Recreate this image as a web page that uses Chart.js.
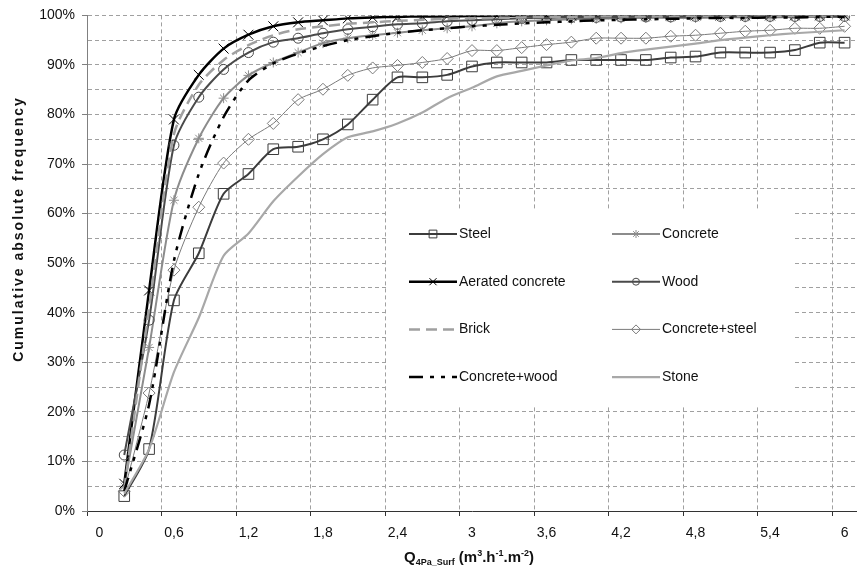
<!DOCTYPE html>
<html>
<head>
<meta charset="utf-8">
<script src="https://cdn.jsdelivr.net/npm/chart.js@4/dist/chart.umd.min.js"></script>
<style>
  html, body { margin: 0; padding: 0; background: #fff; }
</style>
</head>
<body>
<canvas id="graficoFrecuencia" width="857" height="577"></canvas>
<script>
// categorias del eje X (Q4Pa_Surf), paso 0,2
const categorias = ['0', '0,2', '0,4', '0,6', '0,8', '1', '1,2', '1,4', '1,6', '1,8',
  '2', '2,2', '2,4', '2,6', '2,8', '3', '3,2', '3,4', '3,6', '3,8',
  '4', '4,2', '4,4', '4,6', '4,8', '5', '5,2', '5,4', '5,6', '5,8', '6'];

const nombres = ['Steel', 'Concrete', 'Aerated concrete', 'Wood', 'Brick',
  'Concrete+steel', 'Concrete+wood', 'Stone'];

// frecuencia acumulada (%)
const steel = [null, 3, 12.5, 42.5, 52, 64, 68, 73, 73.5, 75, 78,
  83, 87.5, 87.5, 88, 89.7, 90.5, 90.5, 90.5, 91, 91,
  91, 91, 91.5, 91.7, 92.5, 92.5, 92.5, 93, 94.5, 94.5];
const concrete = [null, 5, 33, 62.7, 75.2, 83.3, 87.9, 90.5, 92.5, 94.4, 95.4,
  96, 96.5, 97, 97.4, 97.8, 98.4, 98.8, 99, 99.2, 99.3,
  99.4, 99.5, 99.5, 99.5, 99.6, 99.6, 99.6, 99.7, 99.7, 99.7];
const aerated = [null, 5.5, 44.5, 79, 88, 93.3, 96.1, 97.8, 98.6, 99, 99.4,
  99.6, 99.7, 99.8, 99.8, 99.9, 99.9, 100, 100, 100, 100,
  100, 100, 100, 100, 100, 100, 100, 100, 100, 100];
const wood = [null, 11.3, 38.5, 73.8, 83.5, 89.1, 92.5, 94.6, 95.4, 96.4, 97.2,
  97.7, 98.2, 98.4, 98.8, 99, 99.2, 99.4, 99.5, 99.6, 99.6,
  99.7, 99.7, 99.7, 99.8, 99.8, 99.8, 99.8, 99.8, 99.8, 99.8];
const brick = [null, 4.5, 41, 76, 86, 91, 94, 96, 97.2, 97.8, 98.3,
  98.6, 98.9, 99.1, 99.3, 99.4, 99.5, 99.6, 99.7, 99.7, 99.8,
  99.8, 99.8, 99.8, 99.9, 99.9, 99.9, 99.9, 99.9, 99.9, 99.9];
const concreteSteel = [null, 4, 23.8, 48.6, 61.3, 70.2, 75, 78.2, 83, 85.1, 87.9,
  89.4, 89.9, 90.5, 91.3, 92.9, 92.9, 93.5, 94.1, 94.6, 95.4,
  95.4, 95.4, 95.8, 96, 96.4, 96.8, 97, 97.4, 97.4, 97.8];
const concreteWood = [null, 4, 21.5, 50.5, 68, 79.5, 86.9, 90.3, 92.3, 93.8, 95,
  95.8, 96.5, 97, 97.4, 97.8, 98.1, 98.4, 98.6, 98.8, 99,
  99.1, 99.2, 99.3, 99.4, 99.5, 99.5, 99.6, 99.6, 99.7, 99.7];
const stone = [null, 3.5, 12.5, 28, 39, 51.5, 56, 62.5, 67.5, 72, 75.4,
  76.6, 78.2, 80.4, 83.3, 85.4, 87.7, 88.8, 89.9, 90.9, 91.4,
  92.4, 93.1, 93.7, 94.3, 95, 95.5, 96, 96.4, 96.7, 97];

const series = [steel, concrete, aerated, wood, brick, concreteSteel, concreteWood, stone];

// estilo de cada serie (mismo orden que nombres)
const estilos = [
  { color: '#3c3c3c', ancho: 2, punto: 'rect', radio: 7.5, radioLey: 5.5 },
  { color: '#8c8c8c', ancho: 2, punto: 'star', radio: 5, radioLey: 4 },
  { color: '#000000', ancho: 2.5, punto: 'crossRot', radio: 7, radioLey: 5 },
  { color: '#4a4a4a', ancho: 2, punto: 'circle', radio: 5, radioLey: 3.5 },
  { color: '#a0a0a0', ancho: 2.5, dash: [11, 6] },
  { color: '#7a7a7a', ancho: 1, punto: 'rectRot', radio: 6, radioLey: 4.5 },
  { color: '#000000', ancho: 2.5, dash: [14, 7, 4, 7, 4, 7] },
  { color: '#a8a8a8', ancho: 2.2 },
];

const FUENTE = "'Liberation Sans', Arial, sans-serif";
Chart.defaults.font.family = FUENTE;
Chart.defaults.font.size = 14;
Chart.defaults.color = '#111';

const GRIS_REJILLA = '#a0a0a0';

const datasets = series.map((valores, i) => {
  const e = estilos[i];
  return {
    label: nombres[i],
    data: valores,
    borderColor: e.color,
    borderWidth: e.ancho,
    borderDash: e.dash || [],
    pointStyle: e.punto || 'circle',
    pointRadius: e.punto ? e.radio : 0,
    pointBorderColor: e.color,
    pointBackgroundColor: 'rgba(0,0,0,0)',
    pointBorderWidth: 1,
    pointHoverRadius: e.punto ? e.radio : 0,
    tension: 0.25,
    fill: false,
    spanGaps: false,
    order: series.length - i,
  };
});

// leyenda dentro del area del grafico, dos columnas
const pluginLeyenda = {
  id: 'leyendaInterna',
  afterDraw(chart) {
    const ctx = chart.ctx;
    ctx.save();
    ctx.fillStyle = '#fff';
    ctx.fillRect(388, 209, 404, 196);
    chart.data.datasets.forEach((ds, i) => {
      const e = estilos[i];
      const col = i % 2;
      const fila = Math.floor(i / 2);
      const x0 = col ? 612 : 409;
      const y = 234 + fila * 47.7;
      ctx.strokeStyle = e.color;
      ctx.lineWidth = e.ancho;
      ctx.setLineDash(e.dash || []);
      ctx.beginPath();
      ctx.moveTo(x0, y);
      ctx.lineTo(x0 + 48, y);
      ctx.stroke();
      ctx.setLineDash([]);
      if (e.punto) {
        ctx.lineWidth = 1;
        ctx.fillStyle = 'rgba(0,0,0,0)';
        Chart.helpers.drawPoint(ctx, {
          pointStyle: e.punto, radius: e.radioLey, rotation: 0, borderWidth: 1,
        }, x0 + 24, y);
      }
      ctx.fillStyle = '#111';
      ctx.font = '14px ' + FUENTE;
      ctx.textAlign = 'left';
      ctx.textBaseline = 'middle';
      ctx.fillText(ds.label, x0 + 50, y);
    });
    ctx.restore();
  },
};

// titulos de ejes (con subindice y superindices)
const pluginTitulos = {
  id: 'titulosEjes',
  afterDraw(chart) {
    const ctx = chart.ctx;
    ctx.save();
    ctx.fillStyle = '#111';
    ctx.textBaseline = 'alphabetic';

    // titulo Y: texto girado, algo espaciado como en el original
    ctx.save();
    ctx.translate(19, 229);
    ctx.rotate(-Math.PI / 2);
    ctx.font = 'bold 14px ' + FUENTE;
    ctx.letterSpacing = '2px';
    ctx.textAlign = 'center';
    ctx.textBaseline = 'middle';
    ctx.fillText('Cumulative absolute frequency', 0, 0);
    ctx.restore();

    const partes = [
      ['Q', 0], ['4Pa_Surf', 1], [' (m', 0], ['3', -1], ['.h', 0],
      ['-1', -1], ['.m', 0], ['-2', -1], [')', 0],
    ];
    const fNormal = 'bold 15px ' + FUENTE;
    const fPeque = 'bold 9px ' + FUENTE;
    let total = 0;
    partes.forEach(p => {
      ctx.font = p[1] ? fPeque : fNormal;
      total += ctx.measureText(p[0]).width;
    });
    let x = 469 - total / 2;
    const base = 562;
    ctx.textAlign = 'left';
    partes.forEach(p => {
      ctx.font = p[1] ? fPeque : fNormal;
      const dy = p[1] === 1 ? 3 : (p[1] === -1 ? -6 : 0);
      ctx.fillText(p[0], x, base + dy);
      x += ctx.measureText(p[0]).width;
    });
    ctx.restore();
  },
};

new Chart(document.getElementById('graficoFrecuencia'), {
  type: 'line',
  data: { labels: categorias, datasets: datasets },
  options: {
    responsive: false,
    animation: false,
    devicePixelRatio: 1,
    layout: { autoPadding: false, padding: { top: 15, right: 0, left: 0, bottom: 0 } },
    plugins: {
      legend: { display: false },
      tooltip: { enabled: false },
    },
    scales: {
      x: {
        type: 'category',
        offset: true,
        grid: {
          offset: true,
          color: (c) => (c.index !== undefined && c.index % 3 === 0 ? GRIS_REJILLA : 'rgba(0,0,0,0)'),
          tickColor: (c) => (c.index !== undefined && c.index % 3 === 0 ? '#333' : 'rgba(0,0,0,0)'),
          tickLength: 5,
          tickBorderDash: [],
        },
        border: { color: '#333', width: 1, dash: [4, 3] },
        ticks: {
          autoSkip: false,
          maxRotation: 0,
          padding: 9,
          callback: function (valor, idx) {
            return idx % 3 === 0 ? categorias[idx] : '';
          },
        },
        afterFit: (escala) => {
          escala.height = 66;
          escala.paddingLeft = 0;
          escala.paddingRight = 0;
        },
      },
      y: {
        min: 0,
        max: 100,
        grid: {
          color: GRIS_REJILLA,
          tickColor: (c) => (c.tick && c.tick.value % 10 === 0 ? '#808080' : 'rgba(0,0,0,0)'),
          tickLength: 5,
          tickBorderDash: [],
        },
        border: { color: '#808080', width: 1, dash: [4, 3] },
        ticks: {
          stepSize: 5,
          padding: 7,
          callback: (v) => (v % 10 === 0 ? v + '%' : ''),
        },
        afterFit: (escala) => { escala.width = 87; },
      },
    },
  },
  plugins: [pluginLeyenda, pluginTitulos],
});
</script>
</body>
</html>
